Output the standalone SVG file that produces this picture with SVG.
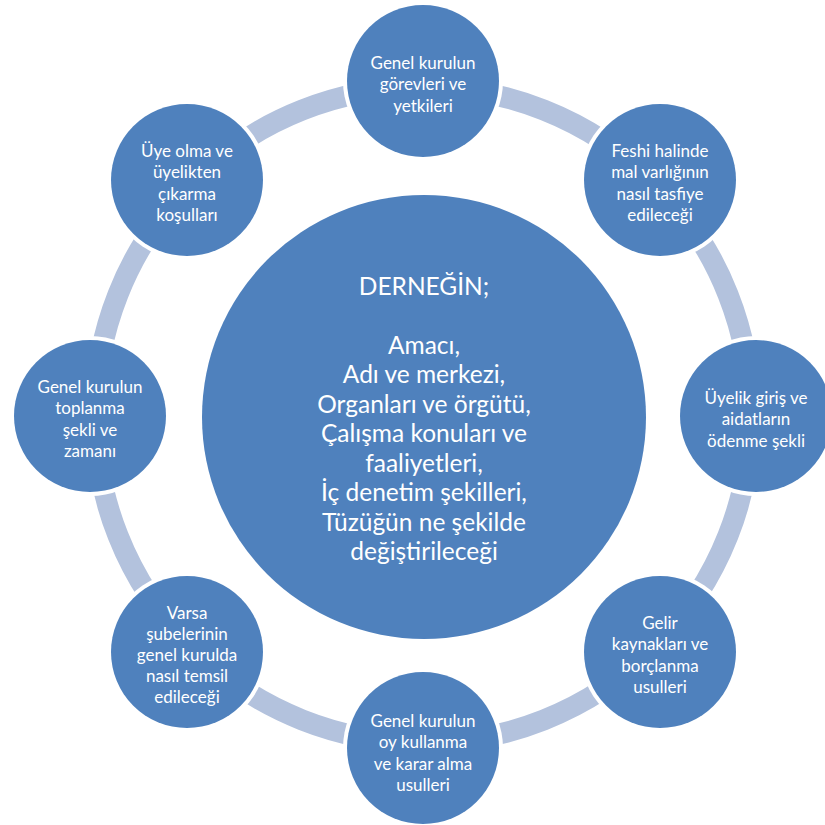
<svg xmlns="http://www.w3.org/2000/svg" width="825" height="825" viewBox="0 0 825 825">
<style>
.ring{fill:none;stroke:#b3c2dd;stroke-width:21}
.halo{fill:#ffffff}
.node{fill:#4f81bd}
.lbl{font-family:Lato,"Open Sans","Liberation Sans",sans-serif;font-size:17px;fill:#ffffff;text-anchor:middle;dominant-baseline:central}
.big{font-family:Lato,"Open Sans","Liberation Sans",sans-serif;font-size:24.5px;fill:#ffffff;text-anchor:middle;dominant-baseline:central}
</style>
<rect width="825" height="825" fill="#ffffff"/>
<g id="connectors">
<circle class="ring" cx="423" cy="415" r="328"/>
</g>
<g id="center">
<circle class="node" cx="424" cy="417" r="222"/>
<text class="big" x="424" y="285">DERNEĞİN;</text>
<text class="big" x="424" y="344">Amacı,</text>
<text class="big" x="424" y="373.5">Adı ve merkezi,</text>
<text class="big" x="424" y="403">Organları ve örgütü,</text>
<text class="big" x="424" y="432.5">Çalışma konuları ve</text>
<text class="big" x="424" y="462">faaliyetleri,</text>
<text class="big" x="424" y="491.5">İç denetim şekilleri,</text>
<text class="big" x="424" y="521">Tüzüğün ne şekilde</text>
<text class="big" x="424" y="550.5">değiştirileceği</text>
</g>
<g id="n-top">
<circle class="halo" cx="423" cy="81" r="80"/>
<circle class="node" cx="423" cy="81" r="76"/>
<text class="lbl" x="423" y="62">Genel kurulun</text>
<text class="lbl" x="423" y="83.5">görevleri ve</text>
<text class="lbl" x="423" y="105">yetkileri</text>
</g>
<g id="n-ur">
<circle class="halo" cx="660" cy="180" r="80"/>
<circle class="node" cx="660" cy="180" r="76"/>
<text class="lbl" x="660" y="150">Feshi halinde</text>
<text class="lbl" x="660" y="171.5">mal varlığının</text>
<text class="lbl" x="660" y="193">nasıl tasfiye</text>
<text class="lbl" x="660" y="214.5">edileceği</text>
</g>
<g id="n-r">
<circle class="halo" cx="756" cy="416" r="80"/>
<circle class="node" cx="756" cy="416" r="76"/>
<text class="lbl" x="756" y="397">Üyelik giriş ve</text>
<text class="lbl" x="756" y="418.5">aidatların</text>
<text class="lbl" x="756" y="440">ödenme şekli</text>
</g>
<g id="n-lr">
<circle class="halo" cx="660" cy="652" r="80"/>
<circle class="node" cx="660" cy="652" r="76"/>
<text class="lbl" x="660" y="622">Gelir</text>
<text class="lbl" x="660" y="643.5">kaynakları ve</text>
<text class="lbl" x="660" y="665">borçlanma</text>
<text class="lbl" x="660" y="686.5">usulleri</text>
</g>
<g id="n-b">
<circle class="halo" cx="423" cy="748" r="80"/>
<circle class="node" cx="423" cy="748" r="76"/>
<text class="lbl" x="423" y="720">Genel kurulun</text>
<text class="lbl" x="423" y="741.5">oy kullanma</text>
<text class="lbl" x="423" y="763">ve karar alma</text>
<text class="lbl" x="423" y="784.5">usulleri</text>
</g>
<g id="n-ll">
<circle class="halo" cx="187" cy="652" r="80"/>
<circle class="node" cx="187" cy="652" r="76"/>
<text class="lbl" x="187" y="612">Varsa</text>
<text class="lbl" x="187" y="633">şubelerinin</text>
<text class="lbl" x="187" y="654">genel kurulda</text>
<text class="lbl" x="187" y="675">nasıl temsil</text>
<text class="lbl" x="187" y="696">edileceği</text>
</g>
<g id="n-l">
<circle class="halo" cx="90" cy="416" r="80"/>
<circle class="node" cx="90" cy="416" r="76"/>
<text class="lbl" x="90" y="386">Genel kurulun</text>
<text class="lbl" x="90" y="407.5">toplanma</text>
<text class="lbl" x="90" y="429">şekli ve</text>
<text class="lbl" x="90" y="450.5">zamanı</text>
</g>
<g id="n-ul">
<circle class="halo" cx="187" cy="180" r="80"/>
<circle class="node" cx="187" cy="180" r="76"/>
<text class="lbl" x="187" y="150">Üye olma ve</text>
<text class="lbl" x="187" y="171.5">üyelikten</text>
<text class="lbl" x="187" y="193">çıkarma</text>
<text class="lbl" x="187" y="214.5">koşulları</text>
</g>
</svg>
